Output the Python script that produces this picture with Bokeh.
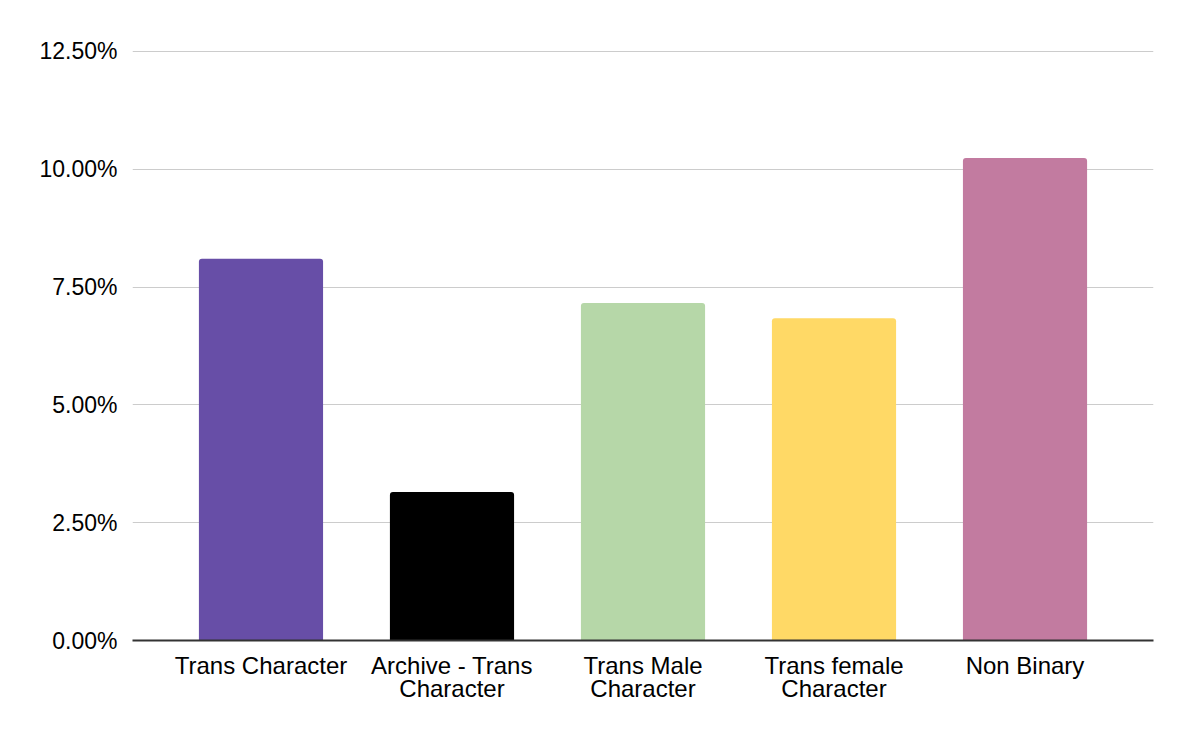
from bokeh.plotting import figure
from bokeh.models import Range1d, FixedTicker, NumeralTickFormatter, ColumnDataSource
from bokeh.embed import file_html
from bokeh.resources import INLINE

categories = ["Trans Character", "Archive - Trans Character", "Trans Male Character",
              "Trans female Character", "Non Binary"]
tick_labels = ["Trans Character", "Archive - Trans\nCharacter", "Trans Male\nCharacter",
               "Trans female\nCharacter", "Non Binary"]
values = [0.0810, 0.0315, 0.0716, 0.0684, 0.1024]
colors = ["#674ea7", "#000000", "#b6d7a8", "#ffd966", "#c27ba0"]
y_ticks = [0.0, 0.025, 0.05, 0.075, 0.10, 0.125]

xs = list(range(len(categories)))
src = ColumnDataSource(dict(x=xs, top=values, color=colors, name=categories))

pad = 0.1727
p = figure(width=1179, height=727, output_backend="svg", toolbar_location=None,
           x_range=Range1d(-0.5 - pad, len(categories) - 0.5 + pad),
           y_range=Range1d(0, 0.1252),
           min_border_left=132, min_border_right=26, min_border_top=50, min_border_bottom=87)
p.outline_line_color = None
p.background_fill_color = "white"
p.border_fill_color = "white"

p.vbar(x="x", top="top", width=0.65, bottom=0, color="color", line_color=None,
       border_radius=(3, 3, 0, 0), source=src)

p.xgrid.grid_line_color = None
p.ygrid.grid_line_color = "#cccccc"
p.ygrid.grid_line_width = 1

p.yaxis.ticker = FixedTicker(ticks=y_ticks)
p.yaxis.formatter = NumeralTickFormatter(format="0.00%")
p.yaxis.axis_line_color = None
p.yaxis.major_tick_line_color = None
p.yaxis.minor_tick_line_color = None
p.yaxis.major_tick_out = 0
p.yaxis.major_tick_in = 0
p.yaxis.major_label_standoff = 15
p.yaxis.major_label_text_font_size = "23px"

p.xaxis.ticker = FixedTicker(ticks=xs)
p.xaxis.major_label_overrides = {i: t for i, t in zip(xs, tick_labels)}
p.xaxis.axis_line_color = "#333333"
p.xaxis.axis_line_width = 2
p.xaxis.major_tick_line_color = None
p.xaxis.minor_tick_line_color = None
p.xaxis.major_tick_out = 0
p.xaxis.major_tick_in = 0
p.xaxis.major_label_standoff = 11
p.xaxis.major_label_text_font_size = "24px"
p.xaxis.major_label_text_line_height = 0.87

for ax in (p.xaxis, p.yaxis):
    ax.major_label_text_font = "Liberation Sans"
    ax.major_label_text_color = "#000000"

open("out.html", "w").write(file_html(p, INLINE))
